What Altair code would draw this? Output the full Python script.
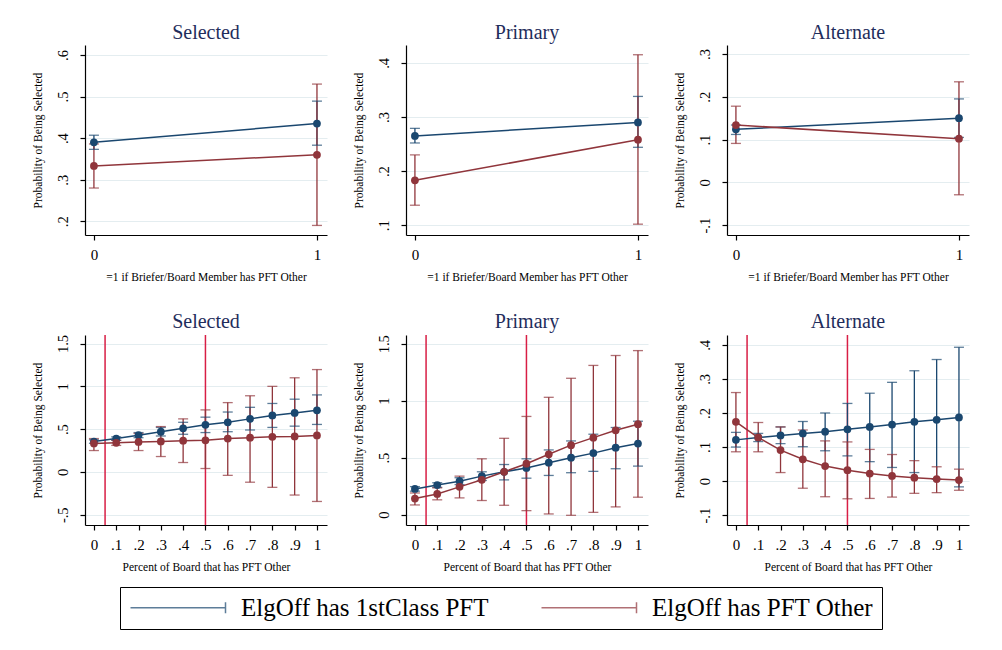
import altair as alt
import pandas as pd

SERIES = ["ElgOff has 1stClass PFT", "ElgOff has PFT Other"]
COLORS = ["#1a476f", "#90353b"]
VLINE_COLOR = "#d81e45"
TITLE_COLOR = "#1f2d5c"
FONT = "Liberation Serif"

Y_TITLE = "Probability of Being Selected"
X_TITLE_TOP = "=1 if Briefer/Board Member has PFT Other"
X_TITLE_BOT = "Percent of Board that has PFT Other"

X_BIN = [0, 1]
X_PCT = [0, 0.1, 0.2, 0.3, 0.4, 0.5, 0.6, 0.7, 0.8, 0.9, 1]
VLINES = [0.05, 0.5]

# ---- top row (binary) ----
sel_bin_blue = [0.39, 0.435]
sel_bin_blue_lo = [0.373, 0.383]
sel_bin_blue_hi = [0.407, 0.489]
sel_bin_red = [0.333, 0.36]
sel_bin_red_lo = [0.28, 0.19]
sel_bin_red_hi = [0.386, 0.53]

pri_bin_blue = [0.265, 0.29]
pri_bin_blue_lo = [0.252, 0.244]
pri_bin_blue_hi = [0.279, 0.338]
pri_bin_red = [0.183, 0.258]
pri_bin_red_lo = [0.137, 0.102]
pri_bin_red_hi = [0.230, 0.415]

alt_bin_blue = [0.124, 0.15]
alt_bin_blue_lo = [0.112, 0.105]
alt_bin_blue_hi = [0.134, 0.195]
alt_bin_red = [0.134, 0.102]
alt_bin_red_lo = [0.091, -0.029]
alt_bin_red_hi = [0.178, 0.235]

# ---- bottom row (percent) ----
sel_pct_blue = [0.355, 0.39, 0.43, 0.47, 0.51, 0.55, 0.58, 0.62, 0.66, 0.69, 0.72]
sel_pct_blue_lo = [0.335, 0.37, 0.40, 0.42, 0.44, 0.46, 0.47, 0.49, 0.52, 0.535, 0.555]
sel_pct_blue_hi = [0.375, 0.41, 0.46, 0.52, 0.58, 0.64, 0.70, 0.755, 0.80, 0.85, 0.90]
sel_pct_red = [0.333, 0.34, 0.35, 0.357, 0.365, 0.37, 0.39, 0.40, 0.41, 0.415, 0.427]
sel_pct_red_lo = [0.25, 0.31, 0.25, 0.18, 0.11, 0.04, -0.04, -0.12, -0.18, -0.27, -0.345]
sel_pct_red_hi = [0.39, 0.37, 0.45, 0.53, 0.62, 0.725, 0.81, 0.89, 1.0, 1.10, 1.196]

pri_pct_blue = [0.226, 0.26, 0.294, 0.338, 0.376, 0.41, 0.456, 0.50, 0.54, 0.588, 0.624]
pri_pct_blue_lo = [0.206, 0.24, 0.264, 0.30, 0.305, 0.32, 0.344, 0.368, 0.38, 0.403, 0.426]
pri_pct_blue_hi = [0.246, 0.28, 0.324, 0.376, 0.44, 0.49, 0.568, 0.647, 0.706, 0.765, 0.82]
pri_pct_red = [0.141, 0.182, 0.244, 0.306, 0.376, 0.447, 0.53, 0.61, 0.676, 0.74, 0.794]
pri_pct_red_lo = [0.085, 0.13, 0.147, 0.124, 0.082, 0.035, 0.006, -0.006, 0.02, 0.068, 0.153]
pri_pct_red_hi = [0.19, 0.235, 0.338, 0.49, 0.67, 0.862, 1.03, 1.197, 1.31, 1.397, 1.44]

alt_pct_blue = [0.121, 0.128, 0.134, 0.14, 0.145, 0.152, 0.159, 0.166, 0.174, 0.18, 0.187]
alt_pct_blue_lo = [0.10, 0.116, 0.11, 0.101, 0.089, 0.074, 0.057, 0.04, 0.025, 0.005, -0.017]
alt_pct_blue_hi = [0.143, 0.14, 0.159, 0.175, 0.2, 0.228, 0.258, 0.29, 0.324, 0.357, 0.393]
alt_pct_red = [0.174, 0.128, 0.091, 0.064, 0.044, 0.032, 0.022, 0.015, 0.01, 0.006, 0.003]
alt_pct_red_lo = [0.086, 0.086, 0.025, -0.021, -0.046, -0.052, -0.051, -0.047, -0.036, -0.034, -0.027]
alt_pct_red_hi = [0.26, 0.172, 0.159, 0.15, 0.118, 0.115, 0.093, 0.078, 0.06, 0.042, 0.035]

XDOM = [-0.04, 1.045]
W, H = 242, 190

LABEL_EXPR = ("datum.value != 0 && abs(datum.value) < 1 ? "
              "(datum.value < 0 ? '-' : '') + substring(format(abs(datum.value), '.1f'), 1) : "
              "format(datum.value, '~g')")

cscale = alt.Scale(domain=SERIES, range=COLORS)

# legend symbol: a horizontal line ending in a cap (like Stata's rcap key)
LEGEND = alt.Legend(
    title=None, orient="none", legendX=35, legendY=542, direction="horizontal",
    symbolType="M-1,0H8.5M8.5,-0.55V0.55", symbolSize=400, symbolStrokeWidth=1.5,
    labelFont=FONT, labelFontSize=25, labelColor="black", labelOffset=88,
    columnPadding=49, padding=8, strokeColor="black", fillColor="white",
    labelLimit=400,
)


def make_df(x, bm, blo, bhi, rm, rlo, rhi):
    rows = []
    for s, (m, lo, hi) in zip(SERIES, [(bm, blo, bhi), (rm, rlo, rhi)]):
        for xi, mi, l, h in zip(x, m, lo, hi):
            rows.append(dict(series=s, x=xi, m=mi, lo=l, hi=h))
    return pd.DataFrame(rows)


def panel(df, title, xvals, xtitle, ydom, yvals, vlines=None):
    common = dict(domainColor="black", tickColor="black", labelColor="black", titleColor="black",
                  labelFont=FONT, titleFont=FONT, domainWidth=1.2, tickWidth=1.2,
                  titleFontWeight="normal", tickSize=5, titleFontSize=11.5)
    xaxis = alt.Axis(values=xvals, title=xtitle, grid=False, labelExpr=LABEL_EXPR,
                     labelFontSize=15, labelPadding=7, titlePadding=9, labelFlush=False, **common)
    yaxis = alt.Axis(values=yvals, title=Y_TITLE, grid=True, gridColor="#e4edf0", gridWidth=1.2,
                     labelExpr=LABEL_EXPR, labelAngle=270, labelAlign="center", labelBaseline="bottom",
                     labelFontSize=14.5, labelPadding=10, titlePadding=12,
                     minExtent=30, maxExtent=30, **common)
    xs = alt.Scale(domain=XDOM, nice=False, zero=False)
    ys = alt.Scale(domain=ydom, nice=False, zero=False)

    def X(f):
        return alt.X(f"{f}:Q", scale=xs, axis=xaxis)

    def Y(f):
        return alt.Y(f"{f}:Q", scale=ys, axis=yaxis)

    col = alt.Color("series:N", scale=cscale, legend=LEGEND)
    base = alt.Chart(df)
    layers = []
    if vlines:
        layers.append(alt.Chart(pd.DataFrame({"v": vlines})).mark_rule(
            color=VLINE_COLOR, strokeWidth=1.5).encode(x=X("v")))
    layers.append(base.mark_rule(strokeWidth=1.3).encode(x=X("x"), y=Y("lo"), y2="hi:Q", color=col))
    layers.append(base.mark_tick(orient="horizontal", size=10, thickness=1.3).encode(
        x=X("x"), y=Y("lo"), color=col))
    layers.append(base.mark_tick(orient="horizontal", size=10, thickness=1.3).encode(
        x=X("x"), y=Y("hi"), color=col))
    layers.append(base.mark_line(strokeWidth=1.5).encode(x=X("x"), y=Y("m"), color=col))
    layers.append(base.mark_point(filled=True, size=60, opacity=1).encode(
        x=X("x"), y=Y("m"), color=col))
    return alt.layer(*layers).properties(
        width=W, height=H,
        title=alt.TitleParams(title, font=FONT, fontSize=20, color=TITLE_COLOR,
                              fontWeight="normal", offset=2, anchor="middle"),
    )


top = alt.hconcat(
    panel(make_df(X_BIN, sel_bin_blue, sel_bin_blue_lo, sel_bin_blue_hi, sel_bin_red, sel_bin_red_lo, sel_bin_red_hi),
          "Selected", X_BIN, X_TITLE_TOP, [0.167, 0.624], [0.2, 0.3, 0.4, 0.5, 0.6]),
    panel(make_df(X_BIN, pri_bin_blue, pri_bin_blue_lo, pri_bin_blue_hi, pri_bin_red, pri_bin_red_lo, pri_bin_red_hi),
          "Primary", X_BIN, X_TITLE_TOP, [0.082, 0.433], [0.1, 0.2, 0.3, 0.4]),
    panel(make_df(X_BIN, alt_bin_blue, alt_bin_blue_lo, alt_bin_blue_hi, alt_bin_red, alt_bin_red_lo, alt_bin_red_hi),
          "Alternate", X_BIN, X_TITLE_TOP, [-0.123, 0.321], [-0.1, 0, 0.1, 0.2, 0.3]),
    spacing=26,
)
bottom = alt.hconcat(
    panel(make_df(X_PCT, sel_pct_blue, sel_pct_blue_lo, sel_pct_blue_hi, sel_pct_red, sel_pct_red_lo, sel_pct_red_hi),
          "Selected", X_PCT, X_TITLE_BOT, [-0.62, 1.60], [-0.5, 0, 0.5, 1, 1.5], VLINES),
    panel(make_df(X_PCT, pri_pct_blue, pri_pct_blue_lo, pri_pct_blue_hi, pri_pct_red, pri_pct_red_lo, pri_pct_red_hi),
          "Primary", X_PCT, X_TITLE_BOT, [-0.091, 1.577], [0, 0.5, 1, 1.5], VLINES),
    panel(make_df(X_PCT, alt_pct_blue, alt_pct_blue_lo, alt_pct_blue_hi, alt_pct_red, alt_pct_red_lo, alt_pct_red_hi),
          "Alternate", X_PCT, X_TITLE_BOT, [-0.129, 0.429], [-0.1, 0, 0.1, 0.2, 0.3, 0.4], VLINES),
    spacing=26,
)

chart = alt.vconcat(top, bottom, spacing=29).properties(
    padding={"left": 24, "top": 15, "right": 5, "bottom": 5},
    background="white",
).configure_view(stroke=None)

chart.save("out.html", embed_options={"renderer": "svg", "actions": False})
